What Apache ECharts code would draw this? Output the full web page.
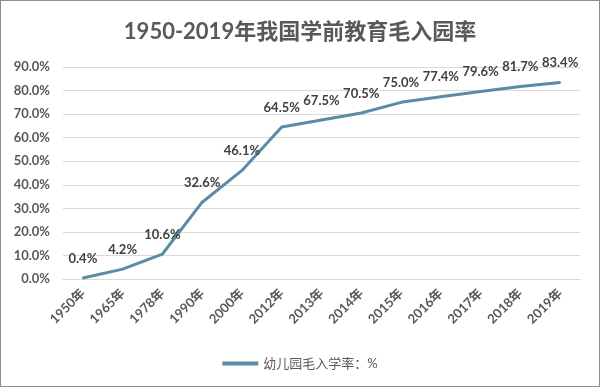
<!DOCTYPE html>
<html><head><meta charset="utf-8">
<script src="https://cdn.jsdelivr.net/npm/echarts@6/dist/echarts.min.js"></script>
<style>html,body{margin:0;padding:0;background:#fff}#c{width:600px;height:387px;box-sizing:border-box;border:1px solid #8c8c8c}</style>
</head><body><div id="c"></div>
<script>
var categories = ['1950年','1965年','1978年','1990年','2000年','2012年','2013年','2014年','2015年','2016年','2017年','2018年','2019年'];
var rates = [0.4, 4.2, 10.6, 32.6, 46.1, 64.5, 67.5, 70.5, 75.0, 77.4, 79.6, 81.7, 83.4];
var seriesName = '幼儿园毛入学率：%';
var titleText = '1950-2019年我国学前教育毛入园率';
var ff = "Lato, 'Noto Sans CJK SC', sans-serif";
var chart = echarts.init(document.getElementById('c'));
chart.setOption({
  animation: false,
  title: {text: titleText, left: 'center', top: 15, textStyle: {fontFamily: ff, fontSize: 22, fontWeight: 'bold', color: '#595959'}},
  grid: {left: 62, right: 19, top: 66, bottom: 107},
  legend: {bottom: 11, left: 'center', icon: 'rect', itemWidth: 36, itemHeight: 4, itemGap: 6, textStyle: {fontFamily: ff, fontSize: 13, color: '#595959'}, data: [seriesName]},
  xAxis: {type: 'category', data: categories, boundaryGap: true,
    axisLine: {lineStyle: {color: '#d9d9d9', width: 1}}, axisTick: {show: false},
    axisLabel: {rotate: 45, interval: 0, fontFamily: ff, fontSize: 13, fontWeight: 'bold', color: '#595959', margin: 12}},
  yAxis: {type: 'value', min: 0, max: 90, interval: 10,
    axisLine: {show: false}, axisTick: {show: false},
    splitLine: {lineStyle: {color: '#d9d9d9'}},
    axisLabel: {formatter: function(v){return v.toFixed(1)+'%';}, fontFamily: ff, fontSize: 13, fontWeight: 'bold', color: '#595959', margin: 13}},
  series: [{name: seriesName, type: 'line', data: rates, symbol: 'circle', symbolSize: 2, showSymbol: true,
    lineStyle: {color: '#5a8ca6', width: 3}, itemStyle: {color: '#5a8ca6'},
    label: {show: true, position: 'top', distance: 12, formatter: function(p){return p.value.toFixed(1)+'%';}, fontFamily: ff, fontSize: 13, fontWeight: 'bold', color: '#404040'}}]
});
</script></body></html>
